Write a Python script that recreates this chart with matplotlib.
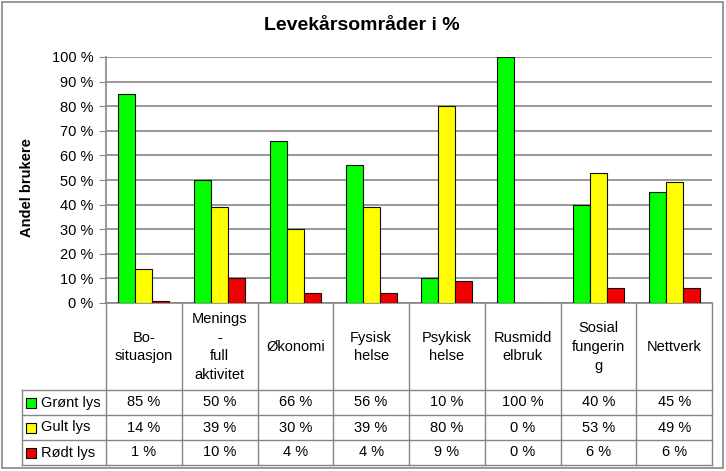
import matplotlib
matplotlib.use("Agg")
import matplotlib.pyplot as plt
import numpy as np
from matplotlib.patches import Rectangle
from matplotlib.lines import Line2D

categories = ["Bo-\nsituasjon", "Menings\n-\nfull\naktivitet", "Økonomi", "Fysisk\nhelse",
              "Psykisk\nhelse", "Rusmidd\nelbruk", "Sosial\nfungerin\ng", "Nettverk"]
series_names = ["Grønt lys", "Gult lys", "Rødt lys"]
green = [85, 50, 66, 56, 10, 100, 40, 45]
yellow = [14, 39, 30, 39, 80, 0, 53, 49]
red = [1, 10, 4, 4, 9, 0, 6, 6]
colors = ["#00FF00", "#FFFF00", "#F00000"]
yticks = [0, 10, 20, 30, 40, 50, 60, 70, 80, 90, 100]

W, H = 726, 471
fig = plt.figure(figsize=(W / 100, H / 100), dpi=100)
plt.rcParams['font.family'] = ['Liberation Sans', 'DejaVu Sans']

def fx(px):
    return px / W
def fy(py):
    return 1 - py / H

left, right, top, bottom = 106, 712, 57, 303
ax = fig.add_axes([fx(left), fy(bottom), fx(right) - fx(left), fy(top) - fy(bottom)])
n = len(categories)
x = np.arange(n)
bw = 0.225
for i, (vals, c) in enumerate(zip([green, yellow, red], colors)):
    ax.bar(x + (i - 1) * bw, vals, bw, color=c, edgecolor="#101010", linewidth=0.8, zorder=3)
ax.set_xlim(-0.5, n - 0.5)
ax.set_ylim(0, 100)
ax.set_yticks(yticks)
ax.set_yticklabels([f"{v} %" for v in yticks], fontsize=10.5)
ax.yaxis.grid(True, color="#868686", linewidth=1.2, zorder=0)
ax.set_xticks([])
for s in ["top", "right"]:
    ax.spines[s].set_visible(False)
ax.spines["left"].set_color("#868686")
ax.spines["bottom"].set_color("#868686")
ax.spines["left"].set_linewidth(1.2)
ax.spines["bottom"].set_linewidth(1.2)
ax.tick_params(axis="y", length=5, color="#868686", pad=4)
ax.set_ylabel("Andel brukere", fontsize=10.5, fontweight="bold")
ax.yaxis.set_label_coords(-0.118, 0.47)

fig.text(fx(362), fy(25), "Levekårsområder i %", ha="center", va="center",
         fontsize=14, fontweight="bold")

# data table
colw = (right - left) / n
lc = "#868686"
rows_y = [390, 415, 440, 465]
for k in range(n + 1):
    xx = left + k * colw
    fig.add_artist(Line2D([fx(xx), fx(xx)], [fy(bottom), fy(465)], color=lc, lw=1.0))
fig.add_artist(Line2D([fx(22), fx(22)], [fy(390), fy(465)], color=lc, lw=1.0))
for ry in rows_y:
    fig.add_artist(Line2D([fx(22), fx(right)], [fy(ry), fy(ry)], color=lc, lw=1.0))

for k, cat in enumerate(categories):
    cx = left + (k + 0.5) * colw
    fig.text(fx(cx), fy(347), cat, ha="center", va="center", fontsize=10.5, linespacing=1.45)

for r, (name, vals, c) in enumerate(zip(series_names, [green, yellow, red], colors)):
    cy = (rows_y[r] + rows_y[r + 1]) / 2
    fig.add_artist(Rectangle((fx(26), fy(cy + 5)), fx(10), 10 / H, facecolor=c,
                             edgecolor="black", lw=0.8))
    fig.text(fx(41), fy(cy), name, ha="left", va="center", fontsize=10.5)
    for k, v in enumerate(vals):
        cx = left + (k + 0.5) * colw
        fig.text(fx(cx), fy(cy), f"{v} %", ha="center", va="center", fontsize=10.5)

fig.add_artist(Rectangle((fx(2), fy(468)), fx(721), 466 / H, facecolor="none",
                         edgecolor="#868686", lw=1.2))

fig.savefig("out.png", dpi=100)
